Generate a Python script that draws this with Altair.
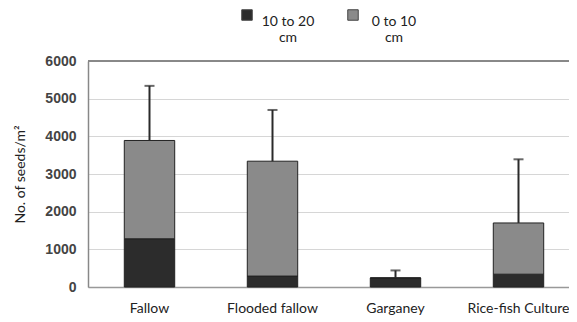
import altair as alt
import pandas as pd

sites = ["Fallow", "Flooded fallow", "Garganey", "Rice-fish Culture"]
deep = [1280, 290, 240, 340]          # 10 to 20 cm
shallow = [2610, 3050, 0, 1360]       # 0 to 10 cm
err_top = [5340, 4700, 440, 3390]
depth_labels = ["10 to 20|cm", "0 to 10|cm"]
y_ticks = [0, 1000, 2000, 3000, 4000, 5000, 6000]

rows = []
for s, d, sh in zip(sites, deep, shallow):
    rows.append({"site": s, "depth": depth_labels[0], "ord": 0, "val": d})
    rows.append({"site": s, "depth": depth_labels[1], "ord": 1, "val": sh})
bars_df = pd.DataFrame(rows)
err_df = pd.DataFrame({"site": sites,
                       "total": [d + s for d, s in zip(deep, shallow)],
                       "top": err_top})

font = "Lato"
xscale = alt.Scale(domain=sites, range=[0, 492], paddingInner=0.59, paddingOuter=0.295)
yscale = alt.Scale(domain=[0, 6000])

x = alt.X("site:N", scale=xscale, sort=sites, title=None)

bars = alt.Chart(bars_df).mark_bar(stroke="#222", strokeWidth=1).encode(
    x=x,
    y=alt.Y("val:Q", stack="zero", scale=yscale, title="No. of seeds/m²"),
    color=alt.Color("depth:N", sort=depth_labels,
                    scale=alt.Scale(domain=depth_labels, range=["#2c2c2c", "#8a8a8a"]),
                    legend=alt.Legend(title=None, orient="none", direction="horizontal",
                                      legendX=152, legendY=-53, symbolType="square",
                                      symbolSize=110, symbolStrokeColor="#444",
                                      symbolStrokeWidth=1, labelFont=font, labelFontSize=14,
                                      labelColor="#222", labelExpr="split(datum.label, '|')",
                                      labelAlign="center", labelOffset=34,
                                      labelBaseline="top", columnPadding=30)),
    order=alt.Order("ord:Q"),
)

rule = alt.Chart(err_df).mark_rule(color="#2a2a2a", strokeWidth=2).encode(
    x=alt.X("site:N", scale=xscale, sort=sites, title=None),
    y=alt.Y("total:Q", scale=yscale, title="No. of seeds/m²"),
    y2="top:Q",
)
cap = alt.Chart(err_df).mark_tick(color="#2a2a2a", thickness=2, size=10).encode(
    x=alt.X("site:N", scale=xscale, sort=sites, title=None),
    y=alt.Y("top:Q", scale=yscale, title="No. of seeds/m²"),
)
topline = alt.Chart(err_df).mark_rule(color="#888", strokeWidth=1.5).encode(
    y=alt.YDatum(6000),
)

chart = alt.layer(bars, rule, cap, topline).properties(
    width=481, height=226,
    padding={"left": 80, "top": 53, "right": 0, "bottom": 30},
    autosize=alt.AutoSizeParams(type="none"),
).configure_view(stroke=None).configure(background="white").configure_axisX(
    labelAngle=0, tickSize=0, labelPadding=14, labelFont=font, labelFontSize=14,
    labelColor="#222", domainColor="#999", domainWidth=1.5, grid=False,
).configure_axisY(
    values=y_ticks, format="d", labelOverlap=False, tickSize=0, labelPadding=12,
    labelFont="Liberation Sans", labelFontSize=14, labelColor="#444", labelFontWeight="bold",
    titleFont=font, titleFontSize=14, titleFontWeight="normal", titleColor="#222",
    titlePadding=17, grid=True, gridColor="#d6d6d6", gridWidth=1,
    domainColor="#888", domainWidth=1.5,
)

chart.save("out.html", embed_options={"renderer": "svg", "actions": False})
